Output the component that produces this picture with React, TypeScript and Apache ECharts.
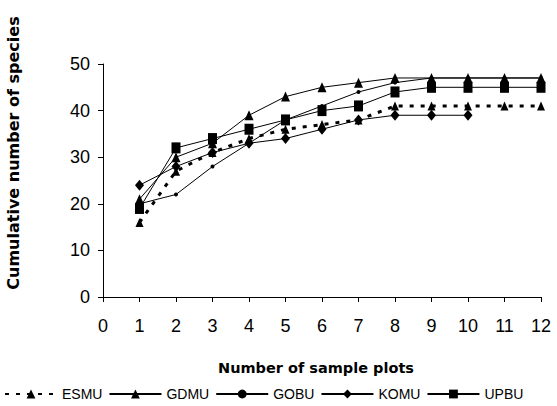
import React, { useEffect, useRef } from "react";
import * as echarts from "echarts";

const plots = [1, 2, 3, 4, 5, 6, 7, 8, 9, 10, 11, 12];
const esmu = [16, 27, 31, 34, 36, 37, 38, 41, 41, 41, 41, 41];
const gdmu = [21, 30, 33, 39, 43, 45, 46, 47, 47, 47, 47, 47];
const gobu = [20, 22, 28, 33, 38, 41, 44, 46, 47, 47, 47, 47];
const komu = [24, 28, 31, 33, 34, 36, 38, 39, 39, 39];
const upbu = [19, 32, 34, 36, 38, 40, 41, 44, 45, 45, 45, 45];

const xTicks = [0, 12, 1];
const yTicks = [0, 50, 10];

const pairs = (vals: number[]) => vals.map((v, i) => [plots[i], v]);

export default function App() {
  const ref = useRef<HTMLDivElement>(null);
  useEffect(() => {
    if (!ref.current) return;
    const chart = echarts.init(ref.current, undefined, { renderer: "svg" });
    const font = "'Liberation Sans', Arial, sans-serif";
    const base = {
      type: "line",
      color: "#000",
      itemStyle: { color: "#000" },
      lineStyle: { color: "#000", width: 1 },
      showSymbol: true,
    };
    chart.setOption({
      animation: false,
      backgroundColor: "#fff",
      textStyle: { fontFamily: font, color: "#000" },
      grid: { left: 103, right: 16, top: 64, bottom: 109 },
      xAxis: {
        type: "value",
        min: xTicks[0],
        max: xTicks[1],
        interval: xTicks[2],
        axisLine: { lineStyle: { color: "#000", width: 1 } },
        axisTick: { show: true, length: 5, lineStyle: { color: "#000" } },
        axisLabel: { color: "#000", fontSize: 18, fontFamily: font, margin: 20 },
        splitLine: { show: false },
      },
      yAxis: {
        type: "value",
        min: yTicks[0],
        max: yTicks[1],
        interval: yTicks[2],
        axisLine: { show: true, lineStyle: { color: "#000", width: 1 } },
        axisTick: { show: true, length: 5, lineStyle: { color: "#000" } },
        axisLabel: { color: "#000", fontSize: 18, fontFamily: font, margin: 13 },
        splitLine: { show: false },
      },
      legend: {
        top: 382,
        left: -1,
        itemWidth: 52,
        itemHeight: 11,
        itemGap: 6,
        textStyle: { color: "#000", fontSize: 14, fontFamily: font },
        data: ["ESMU", "GDMU", "GOBU", "KOMU", "UPBU"],
      },
      graphic: [
        {
          type: "text",
          x: 13,
          y: 153,
          rotation: Math.PI / 2,
          style: {
            text: "Cumulative number of species",
            font: "bold 16px 'DejaVu Sans', sans-serif",
            fill: "#000",
            textAlign: "center",
            textVerticalAlign: "middle",
          },
        },
        {
          type: "text",
          x: 316,
          y: 368,
          style: {
            text: "Number of sample plots",
            font: "bold 14.5px 'DejaVu Sans', sans-serif",
            fill: "#000",
            textAlign: "center",
            textVerticalAlign: "middle",
          },
        },
      ],
      series: [
        {
          ...base,
          name: "ESMU",
          data: pairs(esmu),
          symbol: "triangle",
          symbolSize: [8, 9],
          lineStyle: { color: "#000", width: 3, type: [4, 7] },
          z: 5,
        },
        {
          ...base,
          name: "GDMU",
          data: pairs(gdmu),
          symbol: "triangle",
          symbolSize: [9, 10],
        },
        {
          ...base,
          name: "GOBU",
          data: pairs(gobu),
          symbol: "circle",
          symbolSize: 4,
        },
        {
          ...base,
          name: "KOMU",
          data: pairs(komu),
          symbol: "diamond",
          symbolSize: [9, 11],
        },
        {
          ...base,
          name: "UPBU",
          data: pairs(upbu),
          symbol: "rect",
          symbolSize: [9, 11],
        },
      ],
    });
    return () => chart.dispose();
  }, []);
  return (
    <div
      ref={ref}
      style={{ position: "fixed", left: 0, top: 0, width: 557, height: 406 }}
    />
  );
}
